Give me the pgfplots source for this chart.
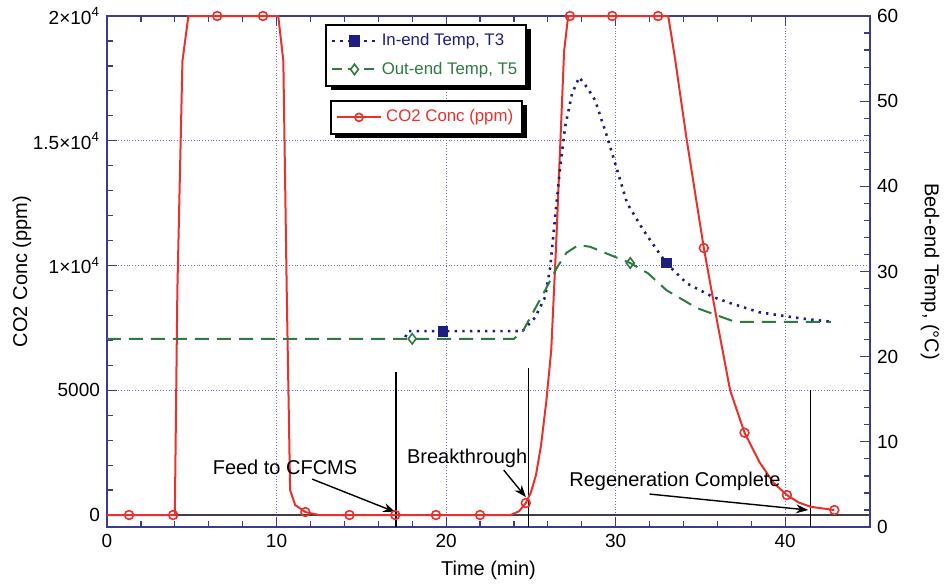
\documentclass[border=0pt]{standalone}
\usepackage{fontspec}
\setmainfont{Liberation Sans}
\usepackage{pgfplots}
\pgfplotsset{compat=1.18}
\usetikzlibrary{shadows,arrows.meta}

\definecolor{cFrame}{HTML}{3C3C8C}
\definecolor{cGrid}{HTML}{6A6AD8}
\definecolor{cRed}{HTML}{E8312B}
\definecolor{cBlue}{HTML}{1E1E80}
\definecolor{cGreen}{HTML}{2E7A40}

% legend shadow is inherited by the sample paths; this clears it
\makeatletter
\tikzset{nopre/.code={\def\tikz@preactions{}}}
\makeatother

\pgfplotsset{
  base/.style={
    scale only axis, width=381.5pt, height=255.5pt,
    xmin=0, xmax=45,
    axis line style={cFrame, line width=0.8pt},
    tick style={cFrame, line width=0.6pt},
    major tick length=5pt, minor tick length=3pt, tick align=inside,
    tick label style={font=\fontsize{9.5}{11}\selectfont},
    label style={font=\fontsize{10}{12}\selectfont},
    /pgf/number format/assume math mode=true,
  },
  leg/.style={
    legend cell align=left,
    legend style={draw=black, line width=1pt, fill=white,
      font=\fontsize{8.4}{10}\selectfont,
      drop shadow={shadow xshift=2.2pt, shadow yshift=-2.2pt, fill=black, opacity=1},
      inner sep=2.5pt, row sep=2.5pt},
  },
}

\begin{document}
\begin{tikzpicture}
\useasboundingbox (-53.5pt,-29pt) rectangle (421pt,263.5pt);
\begin{axis}[
  base, leg,
  ymin=-480, ymax=20000,
  xtick={0,10,20,30,40}, minor x tick num=4,
  ytick={0,5000,10000,15000,20000}, minor y tick num=4,
  scaled y ticks=false,
  yticklabels={0,5000,1×10\textsuperscript{4},1.5×10\textsuperscript{4},2×10\textsuperscript{4}},
  ytick pos=left,
  grid=major, grid style={cGrid, densely dotted, line width=0.5pt},
  xlabel={Time (min)}, ylabel={CO2 Conc (ppm)},
  xlabel style={at={(axis description cs:0.5,-0.0841)}, anchor=center},
  ylabel style={at={(axis description cs:-0.1114,0.5)}, anchor=center},
  legend style={at={(rel axis cs:0.292,0.836)}, anchor=north west},
  clip=false,
]
\addplot[black!75, line width=1pt, forget plot] coordinates {(0,0) (45,0)};
\addplot[black, line width=0.8pt, forget plot] coordinates {(17.05,-480) (17.05,5730)};
\addplot[black, line width=0.8pt, forget plot] coordinates {(24.85,-480) (24.85,5890)};
\addplot[black, line width=0.8pt, forget plot] coordinates {(41.5,-480) (41.5,5010)};
% CO2 line
\addplot[cRed, line width=1pt, forget plot] coordinates {
 (0,0) (1.3,0) (3.9,0) (4.0,0) (4.15,9000) (4.45,18200) (4.8,20000)
 (6.5,20000) (9.2,20000) (10.1,20000) (10.4,18200) (10.6,9000) (10.8,1000)
 (11.1,400) (11.7,120) (12.5,0) (14.3,0) (17.0,0) (19.4,0) (22.0,0) (23.8,0)
 (24.3,150) (24.7,480) (25.0,900) (25.3,1600) (25.6,2800) (25.9,4500)
 (26.2,6600) (26.5,11000) (26.96,18600) (27.2,20000) (27.3,20000)
 (29.8,20000) (32.5,20000) (33.1,20000) (33.5,18300) (34.2,15000)
 (35.2,10700) (36.0,7700) (36.75,5000) (37.6,3300) (38.5,2100) (39.3,1300)
 (40.1,800) (40.8,500) (41.5,330) (42.9,200)};
\addplot[only marks, cRed, mark=o, mark size=2.2pt, line width=0.8pt,
  legend image code/.code={
    \draw[nopre, cRed, line width=1pt] (0cm,0cm) -- (0.78cm,0cm);
    \draw[nopre, cRed, line width=0.8pt, fill=white, mark=o, mark size=2pt] plot coordinates {(0.39cm,0cm)};}]
 coordinates {(1.3,0) (3.9,0) (6.5,20000) (9.2,20000) (11.7,120) (14.3,0)
 (17.0,0) (19.4,0) (22.0,0) (24.7,480) (27.3,20000) (29.8,20000) (32.5,20000)
 (35.2,10700) (37.6,3300) (40.1,800) (42.9,200)};
\addlegendentry{\textcolor{cRed}{CO2 Conc (ppm)}}
\node[font=\fontsize{10}{12}\selectfont] at (axis cs:10.5,1924) {Feed to CFCMS};
\node[font=\fontsize{10}{12}\selectfont] at (axis cs:21.24,2285) {Breakthrough};
\node[font=\fontsize{10}{12}\selectfont] at (axis cs:33.5,1363) {Regeneration Complete};
\draw[-{Stealth[length=6pt,width=4.5pt]}, black, line width=0.7pt] (axis cs:12.1,1440) -- (axis cs:17.0,120);
\draw[-{Stealth[length=6pt,width=4.5pt]}, black, line width=0.7pt] (axis cs:23.4,1800) -- (axis cs:24.7,720);
\draw[-{Stealth[length=6pt,width=4.5pt]}, black, line width=0.7pt] (axis cs:32.0,840) -- (axis cs:41.35,200);
\end{axis}

\begin{axis}[
  base, leg,
  ymin=0, ymax=60,
  axis x line=none, axis y line*=right,
  ytick={0,10,20,30,40,50,60}, minor y tick num=4,
  ylabel={Bed-end Temp, (°C)},
  ylabel style={at={(axis description cs:1.0786,0.5)}, anchor=center, rotate=180},
  legend style={at={(rel axis cs:0.286,0.985)}, anchor=north west},
]
\addplot[cBlue, line width=1.3pt, dash pattern=on 1.2pt off 2.6pt, forget plot] coordinates {
 (17.6,22.3) (17.75,23.0) (19.8,23.0) (24.5,23.0) (25.25,24.6) (25.84,27.0)
 (26.14,30.5) (26.43,36.4) (26.73,42.3) (27.02,47.0) (27.43,50.9) (27.85,52.8)
 (28.32,51.6) (28.79,50.1) (29.5,45.8) (30.09,41.9) (30.68,38.0) (31.62,34.9)
 (32.45,32.5) (32.98,31.0) (34.2,28.6) (35.75,27.0) (36.75,26.3) (38.5,25.2)
 (40.9,24.5) (42.7,24.1)};
\addplot[only marks, cBlue, mark=square*, mark size=2.4pt,
  legend image code/.code={
    \draw[nopre, cBlue, line width=1.1pt, dash pattern=on 1.5pt off 2.5pt] (0cm,0cm) -- (0.78cm,0cm);
    \draw[nopre, cBlue, fill=cBlue, mark=square*, mark size=2.4pt] plot coordinates {(0.39cm,0cm)};}]
 coordinates {(19.8,23.0) (32.98,31.0)};
\addlegendentry{\textcolor{cBlue}{In-end Temp, T3}}
\addplot[cGreen, line width=1pt, dash pattern=on 7pt off 4pt, forget plot] coordinates {
 (0,22.1) (18.0,22.1) (24.0,22.1) (24.5,22.9) (25.1,25.1) (25.84,27.8)
 (26.55,30.5) (27.1,32.2) (27.8,33.1) (28.5,32.9) (30.1,31.6) (30.86,31.0)
 (31.9,29.8) (33.0,27.8) (34.8,25.7) (36.75,24.3) (37.0,24.1) (42.7,24.1)};
\addplot[only marks, cGreen, mark=diamond, mark size=2.6pt, line width=0.8pt,
  legend image code/.code={
    \draw[nopre, cGreen, line width=1pt, dash pattern=on 5pt off 3pt] (0cm,0cm) -- (0.78cm,0cm);
    \draw[nopre, cGreen, line width=0.8pt, fill=white, mark=diamond*, mark size=2.6pt] plot coordinates {(0.39cm,0cm)};}]
 coordinates {(18.0,22.1) (30.86,31.0)};
\addlegendentry{\textcolor{cGreen}{Out-end Temp, T5}}
\end{axis}
\end{tikzpicture}
\end{document}
